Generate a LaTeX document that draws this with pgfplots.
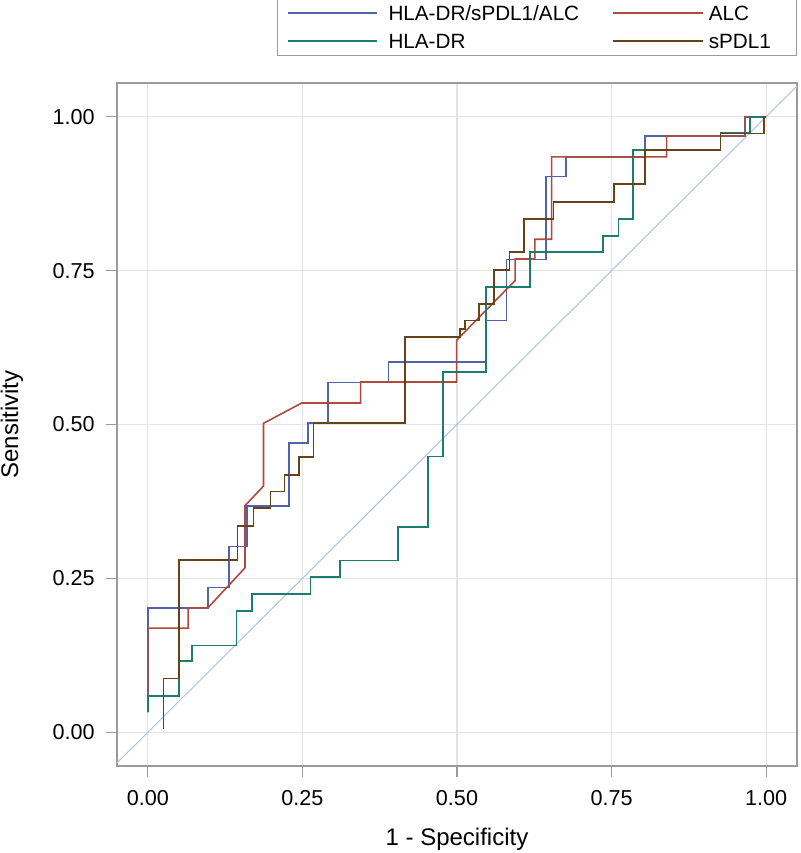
\documentclass[border=0pt]{standalone}
\usepackage{fontspec}
\setmainfont{Liberation Sans}
\usepackage{pgfplots}
\pgfplotsset{compat=1.18}
\definecolor{cblue}{HTML}{5063A8}
\definecolor{cred}{HTML}{B04A3C}
\definecolor{cteal}{HTML}{1C7C72}
\definecolor{cbrown}{HTML}{654218}
\definecolor{cdiag}{HTML}{B4C4E6}
\definecolor{cframe}{HTML}{9A9A9A}
\definecolor{cgrid}{HTML}{E4E4E4}
\begin{document}
\begin{tikzpicture}
\path[use as bounding box] (-87.75pt,-65.25pt) rectangle (512.25pt,574.5pt);
\begin{axis}[
  at={(0,0)}, anchor=south west,
  scale only axis, width=510pt, height=512.25pt,
  xmin=-0.05, xmax=1.05, ymin=-0.055, ymax=1.055,
  xtick={0,0.25,0.5,0.75,1}, ytick={0,0.25,0.5,0.75,1},
  tick pos=left, tick align=outside, major tick length=8pt,
  tick style={cframe, line width=0.8pt},
  axis line style={cframe, line width=0.9pt},
  grid=major, major grid style={cgrid, line width=0.8pt},
  /pgf/number format/.cd, fixed, fixed zerofill, precision=2, assume math mode=true,
  /pgfplots/.cd,
  ticklabel style={font=\fontsize{16.2}{19}\selectfont},
  yticklabel style={inner xsep=0pt, xshift=-8.5pt},
  xticklabel style={inner ysep=0pt, yshift=-10.2pt},
  xlabel={1 - Specificity}, ylabel={Sensitivity},
  label style={font=\fontsize{18}{21}\selectfont},
  xlabel style={at={(axis description cs:0.5,0)}, anchor=center, yshift=-55pt},
  ylabel style={at={([xshift=-78.75pt]axis description cs:0,0.5)}, anchor=center},
  legend columns=2,
  legend cell align=left,
  legend style={at={(1,1.04)}, anchor=south east, draw=cframe, line width=0.8pt,
    font=\fontsize{15.5}{18}\selectfont, inner xsep=6.75pt, inner ysep=2pt,
    nodes={inner sep=0pt, text height=14.3pt, text depth=3.2pt},
    row sep=3.5pt, column sep=0pt},
  legend image code/.code={\draw[#1] (0pt,0pt) -- (67pt,0pt);},
]
\addplot[draw=cdiag, line width=0.8pt, forget plot] coordinates {(-0.05,-0.05) (1.05,1.05)};
\addplot[draw=cblue, line width=1.2pt] coordinates {
(0,0.032)(0,0.202)(0.097,0.202)(0.097,0.235)(0.131,0.235)(0.131,0.302)(0.160,0.302)(0.160,0.368)(0.228,0.368)(0.228,0.470)(0.259,0.470)(0.259,0.502)(0.291,0.502)(0.291,0.568)(0.389,0.568)(0.389,0.602)(0.548,0.602)(0.548,0.669)(0.580,0.669)(0.580,0.768)(0.644,0.768)(0.644,0.903)(0.676,0.903)(0.676,0.935)(0.804,0.935)(0.804,0.969)(0.966,0.969)(0.966,1.0)(1,1)};
\addlegendentry{\makebox[176pt][l]{\hspace{8pt}HLA-DR/sPDL1/ALC}}
\addplot[draw=cred, line width=1.2pt] coordinates {
(0,0.032)(0,0.169)(0.065,0.169)(0.065,0.202)(0.097,0.202)(0.157,0.267)(0.157,0.368)(0.187,0.400)(0.187,0.502)(0.249,0.535)(0.344,0.535)(0.344,0.569)(0.4995,0.569)(0.4995,0.637)(0.594,0.734)(0.594,0.769)(0.626,0.769)(0.626,0.801)(0.653,0.801)(0.653,0.935)(0.839,0.935)(0.839,0.969)(0.966,0.969)(0.966,1.0)(1,1)};
\addlegendentry{\makebox[63pt][l]{\hspace{4pt}ALC}}
\addplot[draw=cteal, line width=1.2pt] coordinates {
(0,0.032)(0,0.059)(0.050,0.059)(0.050,0.116)(0.071,0.116)(0.071,0.141)(0.143,0.141)(0.143,0.197)(0.168,0.197)(0.168,0.225)(0.263,0.225)(0.263,0.252)(0.311,0.252)(0.311,0.279)(0.405,0.279)(0.405,0.333)(0.453,0.333)(0.453,0.448)(0.477,0.448)(0.477,0.585)(0.547,0.585)(0.547,0.723)(0.618,0.723)(0.618,0.780)(0.736,0.780)(0.736,0.806)(0.761,0.806)(0.761,0.834)(0.785,0.834)(0.785,0.946)(0.926,0.946)(0.926,0.974)(0.974,0.974)(0.974,1.0)(1,1)};
\addlegendentry{\makebox[176pt][l]{\hspace{8pt}HLA-DR}}
\addplot[draw=cbrown, line width=1.2pt] coordinates {
(0.025,0.005)(0.025,0.087)(0.050,0.087)(0.050,0.280)(0.145,0.280)(0.145,0.335)(0.171,0.335)(0.171,0.364)(0.198,0.364)(0.198,0.391)(0.221,0.391)(0.221,0.418)(0.244,0.418)(0.244,0.447)(0.268,0.447)(0.268,0.502)(0.416,0.502)(0.416,0.642)(0.505,0.642)(0.505,0.655)(0.513,0.655)(0.513,0.669)(0.536,0.669)(0.536,0.696)(0.560,0.696)(0.560,0.751)(0.585,0.751)(0.585,0.780)(0.608,0.780)(0.608,0.834)(0.656,0.834)(0.656,0.862)(0.754,0.862)(0.754,0.891)(0.804,0.891)(0.804,0.946)(0.926,0.946)(0.926,0.973)(0.997,0.973)(0.997,1.0)(1,1)};
\addlegendentry{\makebox[63pt][l]{\hspace{4pt}sPDL1}}
\end{axis}
\end{tikzpicture}
\end{document}
